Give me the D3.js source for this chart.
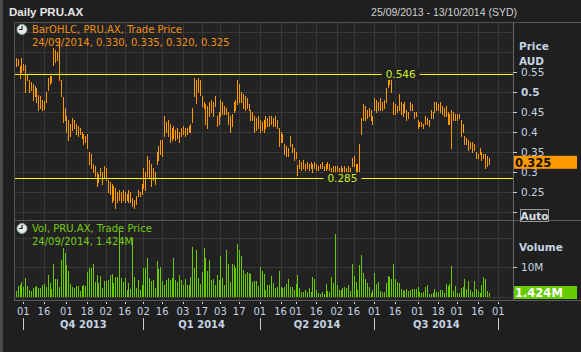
<!DOCTYPE html>
<html><head><meta charset="utf-8">
<script src="https://cdn.jsdelivr.net/npm/d3@7"></script>
<style>
html,body{margin:0;padding:0;background:#1f1f1f;}
svg{display:block;}
</style></head><body>
<svg id="c" width="581" height="352"></svg>
<script>
// ---------- DATA ----------
const title = "Daily PRU.AX";
const dateRange = "25/09/2013 - 13/10/2014 (SYD)";
const startDate = "2013-09-25", endDate = "2014-10-13";
const holidays = ["2013-12-25","2013-12-26","2014-01-01","2014-01-27","2014-04-18","2014-04-21","2014-04-25","2014-06-09"];

const highs = [
0.585,0.583,0.566,0.585,0.572,0.568,0.547,0.53,0.525,0.52,
0.515,0.51,0.493,0.49,0.48,0.478,0.50,0.535,0.54,0.54,
0.61,0.605,0.60,0.635,0.53,0.489,0.46,0.44,0.43,0.42,
0.435,0.43,0.42,0.415,0.41,0.40,0.395,0.39,0.395,0.35,
0.345,0.32,0.315,0.30,0.295,0.31,0.30,0.315,0.31,0.28,
0.275,0.27,0.265,0.26,0.25,0.255,0.25,0.255,0.25,0.245,
0.255,0.25,0.235,0.23,0.24,0.255,0.25,0.27,0.31,0.30,
0.34,0.33,0.32,0.31,0.30,0.35,0.365,0.38,0.38,0.44,
0.425,0.43,0.42,0.41,0.415,0.405,0.41,0.40,0.41,0.415,
0.41,0.41,0.415,0.42,0.46,0.535,0.53,0.535,0.53,0.49,
0.475,0.47,0.465,0.475,0.48,0.477,0.49,0.44,0.45,0.48,
0.475,0.465,0.46,0.45,0.44,0.445,0.475,0.48,0.53,0.52,
0.50,0.495,0.49,0.485,0.47,0.455,0.45,0.44,0.435,0.44,
0.43,0.425,0.43,0.44,0.435,0.44,0.44,0.435,0.44,0.43,
0.41,0.40,0.395,0.37,0.365,0.36,0.39,0.37,0.36,0.35,
0.318,0.33,0.325,0.33,0.32,0.325,0.32,0.325,0.32,0.325,
0.32,0.315,0.32,0.325,0.315,0.32,0.325,0.32,0.31,0.316,
0.315,0.315,0.31,0.315,0.31,0.315,0.31,0.315,0.31,0.335,
0.34,0.32,0.32,0.37,0.435,0.47,0.465,0.455,0.46,0.455,
0.44,0.485,0.48,0.475,0.485,0.475,0.48,0.51,0.535,0.547,
0.545,0.475,0.47,0.465,0.495,0.475,0.47,0.475,0.455,0.45,
0.475,0.47,0.45,0.45,0.43,0.425,0.425,0.42,0.44,0.435,
0.43,0.455,0.45,0.475,0.475,0.47,0.475,0.465,0.46,0.465,
0.45,0.445,0.455,0.45,0.445,0.445,0.445,0.43,0.42,0.39,
0.385,0.38,0.375,0.375,0.37,0.35,0.345,0.36,0.35,0.345,
0.345,0.34,0.335];

const lows = [
0.565,0.568,0.535,0.55,0.556,0.50,0.53,0.50,0.505,0.48,
0.49,0.475,0.456,0.46,0.456,0.458,0.475,0.506,0.52,0.525,
0.568,0.575,0.58,0.53,0.49,0.427,0.43,0.40,0.38,0.39,
0.405,0.41,0.395,0.39,0.395,0.385,0.37,0.375,0.36,0.32,
0.31,0.30,0.29,0.265,0.275,0.29,0.27,0.285,0.28,0.25,
0.245,0.225,0.23,0.21,0.225,0.23,0.225,0.23,0.225,0.23,
0.225,0.225,0.215,0.21,0.22,0.24,0.24,0.245,0.26,0.255,
0.29,0.285,0.265,0.28,0.27,0.32,0.33,0.345,0.34,0.39,
0.40,0.39,0.375,0.38,0.385,0.38,0.385,0.375,0.39,0.395,
0.39,0.395,0.40,0.40,0.425,0.49,0.473,0.50,0.493,0.465,
0.46,0.42,0.41,0.44,0.45,0.44,0.465,0.415,0.42,0.44,
0.445,0.445,0.445,0.42,0.40,0.415,0.45,0.455,0.47,0.475,
0.475,0.46,0.455,0.46,0.455,0.43,0.43,0.40,0.405,0.41,
0.40,0.405,0.40,0.41,0.415,0.415,0.42,0.415,0.415,0.41,
0.365,0.375,0.375,0.345,0.34,0.34,0.365,0.35,0.33,0.335,
0.293,0.31,0.305,0.31,0.305,0.31,0.305,0.31,0.302,0.31,
0.305,0.305,0.31,0.31,0.305,0.305,0.31,0.305,0.29,0.295,
0.29,0.295,0.29,0.295,0.295,0.29,0.295,0.295,0.29,0.315,
0.315,0.30,0.30,0.30,0.395,0.43,0.43,0.435,0.44,0.43,
0.42,0.455,0.45,0.455,0.455,0.455,0.46,0.475,0.514,0.52,
0.50,0.445,0.445,0.45,0.455,0.445,0.44,0.45,0.43,0.435,
0.455,0.455,0.435,0.44,0.41,0.415,0.415,0.41,0.42,0.42,
0.415,0.435,0.435,0.45,0.455,0.455,0.45,0.445,0.44,0.44,
0.42,0.42,0.36,0.43,0.43,0.43,0.435,0.39,0.40,0.37,
0.37,0.355,0.36,0.35,0.355,0.335,0.335,0.345,0.33,0.335,
0.31,0.315,0.32];

// volume in millions of shares
const volumes = [
1.9,3.7,4.0,4.9,3.4,6.5,3.7,2.3,1.9,3.1,
3.4,3.7,3.1,2.8,4.0,4.2,3.4,7.4,4.5,2.6,
11,6.0,6.0,3.4,12.5,16.4,14.7,10.8,8.7,4.2,
3.4,2.8,3.7,3.7,1.9,3.7,4.0,3.5,8.5,9.6,
9.9,11,5.1,7.4,4.5,7.1,3.1,5.3,5.3,5.7,
7.4,7.6,4.5,6.8,6.8,22.7,6.5,5.1,6.5,2.3,
4.5,2.6,20,6.8,2.8,5.7,2.3,4.0,9.6,9.6,
13,6.2,5.3,5.7,3.1,12.1,9.4,10.2,5.3,4.0,
5.7,6.2,5.7,6.2,13,5.7,5.1,7.4,5.7,4.0,
6.0,4.0,4.0,6.8,17,9.6,15.9,6.2,4.2,8.3,
16.4,13.3,8.7,12.5,5.7,6.0,4.0,7.4,5.7,13.9,
6.2,4.0,15.9,11,5.1,11,10.8,9.9,18,15.9,
13.9,9.1,7.6,8.5,7.9,
7.6,5.1,5.3,5.3,3.7,10,8.7,7.6,2.3,4.0,
4.0,7.0,4.5,3.1,3.4,8.7,3.4,3.1,3.4,4.3,
6.0,3.4,3.4,2.3,4.3,7.4,2.8,1.7,1.7,2.3,
1.5,2.8,1.5,6.7,5.9,2.3,1.1,0.9,1.5,0.9,
4.3,1.9,1.5,6.7,4.5,21.3,4.0,2.3,2.3,2.8,
3.3,3.1,4.0,1.9,11,7.0,5.0,2.3,10.8,14.2,
8.0,6.0,4.6,3.3,1.2,2.3,8.0,4.3,5.0,1.9,
1.6,1.6,4.6,7.0,6.7,6.0,11.1,6.0,5.0,4.6,
2.6,2.3,1.9,2.6,1.9,2.2,2.6,2.6,2.6,3.3,
1.6,1.2,1.6,3.3,4.0,0.9,0.9,1.2,2.6,1.6,
1.6,2.3,2.3,1.2,4.3,3.6,4.3,10.4,1.9,3.6,
1.2,1.2,2.9,3.3,6.0,2.6,5.3,2.3,1.6,5.3,
2.6,1.9,1.2,4.0,6.7,6.0,1.9,1.424];

const priceTicks = [0.25,0.3,0.35,0.4,0.45,0.5,0.55];
const priceTickLabels = ["0.25","0.3","0.35","0.4","0.45","0.5","0.55"];
const priceGrid = [0.2,0.25,0.3,0.35,0.4,0.45,0.5,0.55,0.6,0.65];
const volTicks = [10];
const volTickLabels = ["10M"];
const volGrid = [0,10,20];

const levels = [0.546, 0.285];
const levelLabels = ["0.546", "0.285"];
const levelLabelDates = ["2014-07-21", "2014-06-05"];

const lastBar = {date:"24/09/2014", open:"0.330", high:"0.335", low:"0.320", close:"0.325", volume:"1.424M"};
const lastClose = 0.325, lastVolume = 1.424;

const tickDates = ["2013-10-01","2013-10-16","2013-11-01","2013-11-18","2013-12-02","2013-12-16",
"2014-01-02","2014-01-16","2014-02-03","2014-02-17","2014-03-03","2014-03-17",
"2014-04-01","2014-04-16","2014-05-01","2014-05-16","2014-06-02","2014-06-16",
"2014-07-01","2014-07-16","2014-08-01","2014-08-18","2014-09-01","2014-09-16","2014-10-01"];
const tickLabels = ["01","16","01","18","02","16","02","16","03","17","03","17",
"01","16","01","16","02","16","01","16","01","18","01","16","01"];
const quarterStarts = ["2013-10-01","2014-01-02","2014-04-01","2014-07-01","2014-10-01"];
const quarterLabels = ["Q4 2013","Q1 2014","Q2 2014","Q3 2014"];

// ---------- LAYOUT ----------
const L = 14, R = 513, T = 22, PB = 220, VT = 221, B = 300;
const C = {bg:"#1f1f1f", plot:"#222222", grid:"#383838", frame:"#505050",
  axisText:"#c5d3e2", orange:"#ff9900", legOrange:"#f09010", green:"#66cc00", legGreen:"#77cc11",
  yellow:"#ffff00", lvlText:"#ccee22"};
const FONT = "'DejaVu Sans', Verdana, sans-serif";
const SANS = "'Liberation Sans', Arial, sans-serif";

const svg = d3.select("#c");
const fmt = d3.timeFormat("%Y-%m-%d");
const parse = d3.timeParse("%Y-%m-%d");
const hol = new Set(holidays);
const days = d3.timeDay.range(parse(startDate), d3.timeDay.offset(parse(endDate), 1))
  .filter(d => d.getDay() !== 0 && d.getDay() !== 6 && !hol.has(fmt(d))).map(fmt);

const x = d3.scalePoint().domain(days).range([15.8, 513.3]);
const y = d3.scaleLinear().domain([0.25, 0.55]).range([192.3, 72.3]);
const yv = d3.scaleLinear().domain([0, 10]).range([296.7, 267.3]);
const px = v => Math.round(v) + 0.5;

svg.append("rect").attr("width", 581).attr("height", 352).attr("fill", C.bg);
svg.append("rect").attr("x", 0).attr("y", 0).attr("width", 3).attr("height", 352).attr("fill", "#4a4a4a");
svg.append("rect").attr("x", L).attr("y", T).attr("width", R - L).attr("height", B - T).attr("fill", C.plot);

// title
svg.append("text").attr("x", 9).attr("y", 16).attr("fill", "#e6e6e6").attr("font-family", SANS)
  .attr("font-weight", "bold").attr("font-size", 11.5).text(title);
svg.append("text").attr("x", 517).attr("y", 16).attr("text-anchor", "end").attr("fill", "#d0d0d0")
  .attr("font-family", SANS).attr("font-size", 10.5).text(dateRange);

// grid
const g = svg.append("g").attr("shape-rendering", "crispEdges");
g.selectAll(".vg").data(tickDates).join("line")
  .attr("x1", d => px(x(d))).attr("x2", d => px(x(d))).attr("y1", T).attr("y2", B)
  .attr("stroke", C.grid);
g.selectAll(".pg").data(priceGrid.filter(v => y(v) > T && y(v) < PB)).join("line")
  .attr("x1", L).attr("x2", R).attr("y1", d => px(y(d))).attr("y2", d => px(y(d))).attr("stroke", C.grid);
g.selectAll(".vgr").data(volGrid).join("line")
  .attr("x1", L).attr("x2", R).attr("y1", d => px(yv(d))).attr("y2", d => px(yv(d))).attr("stroke", C.grid);

// clip
svg.append("clipPath").attr("id", "cp").append("rect").attr("x", L).attr("y", T).attr("width", R - L).attr("height", PB - T);
svg.append("clipPath").attr("id", "cv").append("rect").attr("x", L).attr("y", VT).attr("width", R - L).attr("height", B - VT);

// price bars
const bars = highs.map((h, i) => ({day: days[i], h, l: lows[i]}));
svg.append("g").attr("clip-path", "url(#cp)").attr("shape-rendering", "crispEdges")
  .selectAll("line").data(bars).join("line")
  .attr("x1", d => px(x(d.day))).attr("x2", d => px(x(d.day)))
  .attr("y1", d => Math.round(y(d.h))).attr("y2", d => Math.round(y(d.l)) + 1)
  .attr("stroke", C.orange).attr("stroke-width", 1);

// levels
const lv = svg.append("g");
levels.forEach((v, i) => {
  lv.append("line").attr("x1", L).attr("x2", R).attr("y1", px(y(v))).attr("y2", px(y(v)))
    .attr("stroke", C.yellow).attr("shape-rendering", "crispEdges");
  const cx = x(levelLabelDates[i]);
  lv.append("rect").attr("x", cx - 19).attr("y", y(v) - 6).attr("width", 38).attr("height", 12).attr("fill", C.plot);
  lv.append("text").attr("x", cx).attr("y", y(v) + 4).attr("text-anchor", "middle")
    .attr("fill", C.lvlText).attr("font-family", FONT).attr("font-size", 10.5).text(levelLabels[i]);
});

// volume bars
svg.append("g").attr("clip-path", "url(#cv)").attr("shape-rendering", "crispEdges")
  .selectAll("line").data(volumes).join("line")
  .attr("x1", (d, i) => px(x(days[i]))).attr("x2", (d, i) => px(x(days[i])))
  .attr("y1", d => Math.round(yv(d))).attr("y2", yv(0))
  .attr("stroke", C.green);

// frames
const f = svg.append("g").attr("shape-rendering", "crispEdges").attr("fill", "none");
f.append("line").attr("x1", L).attr("x2", 581).attr("y1", T + 0.5).attr("y2", T + 0.5).attr("stroke", "#555");
f.append("line").attr("x1", L + 0.5).attr("x2", L + 0.5).attr("y1", T).attr("y2", B).attr("stroke", "#555");
f.append("line").attr("x1", R + 0.5).attr("x2", R + 0.5).attr("y1", T).attr("y2", B).attr("stroke", "#666");
f.append("line").attr("x1", L).attr("x2", 581).attr("y1", PB + 0.5).attr("y2", PB + 0.5).attr("stroke", "#5a5a5a");
f.append("line").attr("x1", L).attr("x2", 581).attr("y1", B + 0.5).attr("y2", B + 0.5).attr("stroke", "#5a5a5a");

// right price axis
const ra = svg.append("g");
ra.append("text").attr("x", 519).attr("y", 50).attr("fill", C.axisText).attr("font-family", FONT)
  .attr("font-weight", "bold").attr("font-size", 10.5).text("Price");
ra.append("text").attr("x", 519).attr("y", 65).attr("fill", C.axisText).attr("font-family", FONT)
  .attr("font-weight", "bold").attr("font-size", 10.5).text("AUD");
ra.selectAll(".pt").data(priceTicks.concat([0.2])).join("line")
  .attr("x1", R).attr("x2", R + 4).attr("y1", d => px(y(d))).attr("y2", d => px(y(d)))
  .attr("stroke", "#ccc").attr("shape-rendering", "crispEdges");
ra.selectAll(".ptl").data(priceTicks).join("text")
  .attr("x", 521).attr("y", d => y(d) + 4).attr("fill", C.axisText).attr("font-family", FONT)
  .attr("font-size", 10.5).attr("font-weight", (d, i) => priceTickLabels[i] === "0.5" ? "bold" : "normal")
  .text((d, i) => priceTickLabels[i]);
ra.append("rect").attr("x", 514).attr("y", y(lastClose) - 6.5).attr("width", 63).attr("height", 13).attr("fill", C.orange);
ra.append("text").attr("x", 515).attr("y", y(lastClose) + 4.5).attr("fill", "#111").attr("font-family", FONT)
  .attr("font-weight", "bold").attr("font-size", 11.5).text(lastBar.close);
ra.append("rect").attr("x", 520.5).attr("y", 209.5).attr("width", 28).attr("height", 12).attr("fill", "#262626")
  .attr("stroke", "#9a9a9a");
ra.append("text").attr("x", 534.5).attr("y", 219.5).attr("text-anchor", "middle").attr("fill", "#d8e0e8").attr("font-family", FONT)
  .attr("font-weight", "bold").attr("font-size", 10.5).text("Auto");

// right volume axis
ra.append("text").attr("x", 519).attr("y", 251).attr("fill", C.axisText).attr("font-family", FONT)
  .attr("font-weight", "bold").attr("font-size", 10.5).text("Volume");
ra.selectAll(".vt").data(volTicks).join("line")
  .attr("x1", R).attr("x2", R + 4).attr("y1", d => px(yv(d))).attr("y2", d => px(yv(d)))
  .attr("stroke", "#ccc").attr("shape-rendering", "crispEdges");
ra.selectAll(".vtl").data(volTicks).join("text")
  .attr("x", 521).attr("y", d => yv(d) + 4).attr("fill", C.axisText).attr("font-family", FONT)
  .attr("font-size", 10.5).text((d, i) => volTickLabels[i]);
ra.append("rect").attr("x", 514).attr("y", yv(lastVolume) - 6.5).attr("width", 63).attr("height", 13).attr("fill", C.green);
ra.append("text").attr("x", 515).attr("y", yv(lastVolume) + 4.5).attr("fill", "#fff").attr("font-family", FONT)
  .attr("font-weight", "bold").attr("font-size", 11.5).text(lastBar.volume);

// bottom axis
const ba = svg.append("g");
ba.selectAll(".bt").data(tickDates).join("line")
  .attr("x1", d => px(x(d))).attr("x2", d => px(x(d))).attr("y1", 302).attr("y2", 304)
  .attr("stroke", "#ddd").attr("shape-rendering", "crispEdges");
ba.selectAll(".btl").data(tickDates).join("text")
  .attr("x", d => x(d)).attr("y", 315).attr("text-anchor", "middle").attr("fill", C.axisText)
  .attr("font-family", FONT).attr("font-size", 10).text((d, i) => tickLabels[i]);
ba.selectAll(".qs").data(quarterStarts).join("line")
  .attr("x1", d => px(x(d))).attr("x2", d => px(x(d))).attr("y1", 318).attr("y2", 330)
  .attr("stroke", "#ccc").attr("shape-rendering", "crispEdges");
ba.selectAll(".ql").data(quarterLabels).join("text")
  .attr("x", (d, i) => (x(quarterStarts[i]) + x(quarterStarts[i + 1])) / 2).attr("y", 328)
  .attr("text-anchor", "middle").attr("fill", C.axisText).attr("font-family", FONT)
  .attr("font-weight", "bold").attr("font-size", 10).text(d => d);

// legends
function clock(g, cx, cy) {
  g.append("circle").attr("cx", cx).attr("cy", cy).attr("r", 5).attr("fill", "#e8e8e8").attr("stroke", "#8aa").attr("stroke-width", 1);
  g.append("path").attr("d", `M${cx},${cy - 3.5}V${cy}H${cx - 3}`).attr("stroke", "#222").attr("fill", "none").attr("stroke-width", 1.2);
}
const lg = svg.append("g");
clock(lg, 22, 29.5);
lg.append("text").attr("x", 32).attr("y", 33).attr("fill", C.legOrange).attr("font-family", FONT).attr("font-size", 10)
  .text("BarOHLC, PRU.AX, Trade Price");
lg.append("text").attr("x", 32).attr("y", 45.5).attr("fill", C.legOrange).attr("font-family", FONT).attr("font-size", 10)
  .text(`${lastBar.date}, ${lastBar.open}, ${lastBar.high}, ${lastBar.low}, ${lastBar.close}`);
clock(lg, 22, 228.5);
lg.append("text").attr("x", 32).attr("y", 232).attr("fill", C.legGreen).attr("font-family", FONT).attr("font-size", 10)
  .text("Vol, PRU.AX, Trade Price");
lg.append("text").attr("x", 32).attr("y", 244.5).attr("fill", C.legGreen).attr("font-family", FONT).attr("font-size", 10)
  .text(`${lastBar.date}, ${lastBar.volume}`);
</script>
</body></html>
